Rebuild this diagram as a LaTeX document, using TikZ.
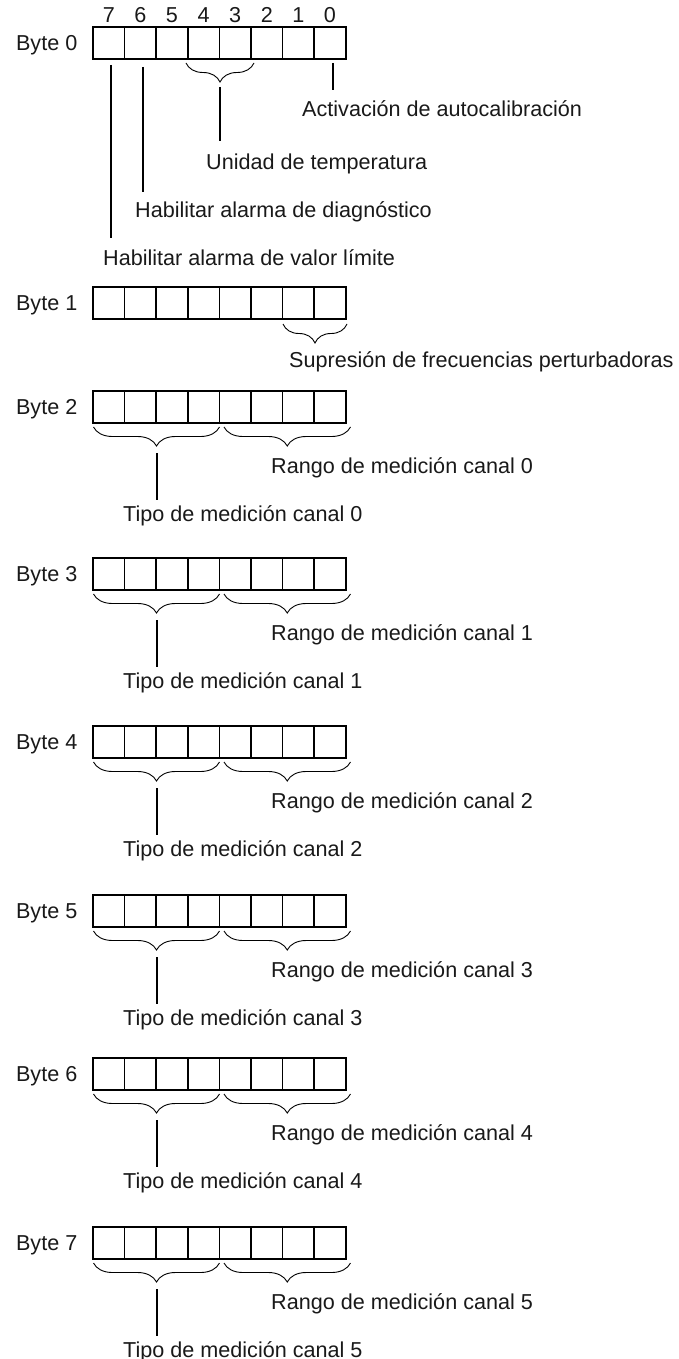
\documentclass[tikz,border=0pt]{standalone}
\usepackage{fontspec}
\setmainfont{Liberation Sans}
\usetikzlibrary{decorations.pathreplacing}
\begin{document}
\begin{tikzpicture}[x=1pt,y=-1pt,
  cell/.style={draw, line width=1.5pt, minimum width=31.6pt, minimum height=32pt, inner sep=0pt, outer sep=0pt},
  txt/.style={font=\fontsize{21.6}{26}\selectfont, inner sep=0pt, text=black!90},
  lbl/.style={txt, anchor=base west},
  bytelbl/.style={txt, anchor=base east},
  bitnum/.style={txt, anchor=base},
  ptr/.style={line width=2.2pt},
  brc/.style={decorate, decoration={brace, mirror, amplitude=19pt}, line width=0.9pt}]
\useasboundingbox (0,0) rectangle (679,1359);

% byte rows: boxes and labels
\foreach \t/\bn in {27/0,287/1,391/2,558/3,726/4,895/5,1058/6,1227/7} {
  \node[bytelbl] (lab\bn) at (77.5,{\t+23.7}) {Byte \bn};
  \foreach \i in {0,...,7} {
    \pgfmathtruncatemacro\bit{7-\i}
    \node[cell] (c\bn-\bit) at ({93+31.6*(\i+0.5)},{\t+16}) {};
  }
}

% bit numbers above byte 0
\foreach \i in {0,...,7} {
  \pgfmathtruncatemacro\bit{7-\i}
  \node[bitnum] (n\bit) at ({93+31.6*(\i+0.5)},23) {\bit};
}

% Byte 0 annotations
\coordinate (p7a) at (111,65);  \coordinate (p7b) at (111,238);
\coordinate (p6a) at (143,67);  \coordinate (p6b) at (143,192);
\coordinate (p43a) at (220,87); \coordinate (p43b) at (220,141);
\coordinate (p0a) at (333,63);  \coordinate (p0b) at (333,90);
\draw[ptr] (p7a) -- (p7b);
\draw[ptr] (p6a) -- (p6b);
\draw[ptr] (p43a) -- (p43b);
\draw[ptr] (p0a) -- (p0b);
\coordinate (br43a) at (186,63); \coordinate (br43b) at (254,63);
\draw[brc] (br43a) -- (br43b);
\node[lbl] (act) at (302,117) {Activación de autocalibración};
\node[lbl] (uni) at (206,170) {Unidad de temperatura};
\node[lbl] (diag) at (135,218) {Habilitar alarma de diagnóstico};
\node[lbl] (lim) at (103,265) {Habilitar alarma de valor límite};

% Byte 1 annotation
\coordinate (br1a) at (283,324); \coordinate (br1b) at (347,324);
\draw[brc] (br1a) -- (br1b);
\node[lbl] (sup) at (289,367) {Supresión de frecuencias perturbadoras};

% Bytes 2..7
\foreach \t/\bn in {391/2,558/3,726/4,895/5,1058/6,1227/7} {
  \pgfmathtruncatemacro\ch{\bn-2}
  \coordinate (bl\bn a) at (93.5,{\t+36}); \coordinate (bl\bn b) at (219.5,{\t+36});
  \coordinate (br\bn a) at (224,{\t+36}); \coordinate (br\bn b) at (350.5,{\t+36});
  \draw[brc] (bl\bn a) -- (bl\bn b);
  \draw[brc] (br\bn a) -- (br\bn b);
  \coordinate (tip\bn) at (157,{\t+62}); \coordinate (end\bn) at (157,{\t+109});
  \draw[ptr] (tip\bn) -- (end\bn);
  \node[lbl] (rng\bn) at (271,{\t+82}) {Rango de medición canal \ch};
  \node[lbl] (tipo\bn) at (123,{\t+130}) {Tipo de medición canal \ch};
}
\end{tikzpicture}
\end{document}
